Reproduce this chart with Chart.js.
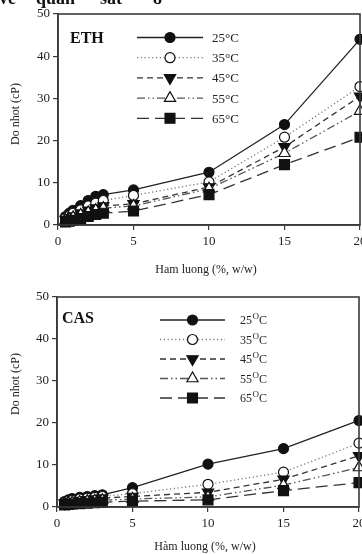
<!DOCTYPE html>
<html lang="vi">
  <head>
    <meta charset="UTF-8" />
    <title>Do nhot</title>
    <script src="https://cdn.jsdelivr.net/npm/chart.js"></script>
    <style>
      html, body { margin: 0; padding: 0; background: #fff; }
      body { width: 362px; height: 554px; position: relative; overflow: hidden; }
      canvas { position: absolute; left: 0; }
      #c1 { top: 0; }
      #c2 { top: 277px; }
    </style>
  </head>
  <body>
    <!-- canvases are a bit wider than the window so the last x label gets cut like the scan -->
    <canvas id="c1" width="376" height="277"></canvas>
    <canvas id="c2" width="376" height="277"></canvas>

    <script>
      // shared x values (% w/w)
      const conc = [0.5, 0.75, 1, 1.5, 2, 2.5, 3, 5, 10, 15, 20];
      const xTicks = [0, 5, 10, 15, 20];
      const yTicks = [0, 10, 20, 30, 40, 50];
      const temps = ["25", "35", "45", "55", "65"];

      // ETH viscosity (cP)
      const eth25 = [2.0, 2.8, 3.5, 4.6, 5.8, 6.8, 7.2, 8.3, 12.5, 23.8, 44.0];
      const eth35 = [1.7, 2.2, 2.8, 3.6, 4.5, 5.2, 5.8, 7.0, 10.2, 20.8, 32.8];
      const eth45 = [1.3, 1.7, 2.1, 2.8, 3.5, 4.0, 4.5, 5.0, 9.0, 18.5, 30.5];
      const eth55 = [1.1, 1.4, 1.8, 2.4, 3.0, 3.5, 4.0, 4.5, 8.6, 17.0, 27.0];
      const eth65 = [0.7, 0.9, 1.1, 1.5, 2.0, 2.5, 2.8, 3.3, 7.2, 14.3, 20.8];

      // CAS viscosity (cP)
      const cas25 = [1.3, 1.7, 2.0, 2.3, 2.5, 2.7, 2.9, 4.6, 10.2, 13.9, 20.6];
      const cas35 = [1.1, 1.4, 1.6, 1.9, 2.1, 2.3, 2.5, 3.2, 5.4, 8.3, 15.2];
      const cas45 = [0.9, 1.1, 1.3, 1.5, 1.7, 1.9, 2.1, 2.5, 3.5, 6.6, 12.2];
      const cas55 = [0.7, 0.9, 1.0, 1.2, 1.4, 1.5, 1.6, 1.9, 2.4, 5.2, 9.4];
      const cas65 = [0.5, 0.6, 0.7, 0.8, 0.9, 1.0, 1.1, 1.4, 1.7, 3.9, 5.8];

      const SERIF = "'Liberation Serif', 'DejaVu Serif', serif";
      const INK = "#222";
      const FRAME = "#3a3a3a";
      const CW = 376;

      // line + marker style per temperature
      const styles = [
        { dash: [], lineColor: "#222", marker: "circle", fill: "#111", r: 5 },
        { dash: [1.2, 2.6], lineColor: "#777", marker: "circle", fill: "#fff", r: 5 },
        { dash: [6, 4], lineColor: "#333", marker: "triangle", rot: 180, fill: "#111", r: 6.5 },
        { dash: [8, 3, 1.5, 3, 1.5, 3], lineColor: "#555", marker: "triangle", rot: 0, fill: "#fff", r: 6.5 },
        { dash: [12, 6], lineColor: "#333", marker: "rect", fill: "#111", r: 7 },
      ];

      function drawMarker(ctx, s, x, y) {
        ctx.save();
        ctx.setLineDash([]);
        ctx.fillStyle = s.fill;
        ctx.strokeStyle = "#111";
        ctx.lineWidth = 1.2;
        ctx.beginPath();
        if (s.marker === "circle") {
          ctx.arc(x, y, s.r, 0, Math.PI * 2);
        } else if (s.marker === "rect") {
          const h = s.r * Math.SQRT1_2;
          ctx.rect(x - h, y - h, 2 * h, 2 * h);
        } else {
          const d = s.rot === 180 ? -1 : 1;
          const a = s.r;
          ctx.moveTo(x, y - d * a);
          ctx.lineTo(x - a * 0.866, y + d * a * 0.5);
          ctx.lineTo(x + a * 0.866, y + d * a * 0.5);
          ctx.closePath();
        }
        ctx.fill();
        ctx.stroke();
        ctx.restore();
      }

      const panelPlugin = {
        id: "panel",
        afterDraw(chart, args, o) {
          const ctx = chart.ctx;
          const a = chart.chartArea;
          ctx.save();
          // frame
          ctx.strokeStyle = FRAME;
          ctx.lineWidth = 1.6;
          ctx.strokeRect(a.left, a.top, a.right - a.left, a.bottom - a.top);

          // panel label
          ctx.fillStyle = "#111";
          ctx.font = "bold 16px " + SERIF;
          ctx.textBaseline = "alphabetic";
          ctx.fillText(o.label, o.labelX, o.labelY);

          // legend
          o.rows.forEach((t, i) => {
            const s = styles[i];
            const y = o.legY + o.legStep * i;
            ctx.save();
            ctx.strokeStyle = s.lineColor;
            ctx.lineWidth = 1.3;
            ctx.setLineDash(s.dash);
            ctx.beginPath();
            ctx.moveTo(o.legX1, y);
            ctx.lineTo(o.legX2, y);
            ctx.stroke();
            ctx.restore();
            drawMarker(ctx, s, (o.legX1 + o.legX2) / 2, y);

            ctx.fillStyle = INK;
            ctx.textBaseline = "middle";
            ctx.font = o.legFont + "px " + SERIF;
            let x = o.textX;
            ctx.fillText(t, x, y + 1);
            x += ctx.measureText(t).width;
            if (o.degree) {
              ctx.fillText("°C", x, y + 1);
            } else {
              ctx.font = Math.round(o.legFont * 0.72) + "px " + SERIF;
              ctx.fillText("O", x + 0.5, y - 3);
              x += ctx.measureText("O").width + 0.5;
              ctx.font = o.legFont + "px " + SERIF;
              ctx.fillText("C", x, y + 1);
            }
          });

          // axis titles
          ctx.fillStyle = INK;
          ctx.font = "12px " + SERIF;
          ctx.textAlign = "center";
          ctx.textBaseline = "middle";
          ctx.fillText(o.xTitle, o.xTitleX, o.xTitleY);
          ctx.translate(o.yTitleX, o.yTitleY);
          ctx.rotate(-Math.PI / 2);
          ctx.fillText("Do nhot (cP)", 0, 0);
          ctx.restore();

          if (o.top) {
            ctx.save();
            ctx.fillStyle = "#111";
            ctx.font = "bold 18px " + SERIF;
            ctx.textBaseline = "alphabetic";
            ctx.fillText("về", -1, 4);
            ctx.fillText("quan", 36, 4);
            ctx.fillText("sát", 100, 4);
            ctx.fillText("8", 153, 4);
            ctx.restore();
          }
        },
      };

      function makeChart(id, series, box, panel) {
        const H = 277;
        const datasets = series.map((vals, i) => {
          const s = styles[i];
          return {
            label: temps[i],
            data: conc.map((x, k) => ({ x: x, y: vals[k] })),
            showLine: true,
            borderColor: s.lineColor,
            borderWidth: 1.3,
            borderDash: s.dash,
            pointStyle: s.marker,
            rotation: s.rot || 0,
            pointRadius: s.r,
            pointBackgroundColor: s.fill,
            pointBorderColor: "#111",
            pointBorderWidth: 1.2,
            clip: false,
          };
        });
        // draw warm series last so they sit on top
        datasets.reverse();

        return new Chart(document.getElementById(id), {
          type: "scatter",
          data: { datasets: datasets },
          plugins: [panelPlugin],
          options: {
            responsive: false,
            animation: false,
            events: [],
            layout: { padding: { top: box.top, right: CW - box.right, left: 0, bottom: 0 } },
            scales: {
              x: {
                type: "linear",
                min: 0,
                max: 20,
                afterBuildTicks: (s) => { s.ticks = xTicks.map((v) => ({ value: v })); },
                ticks: { color: INK, font: { family: SERIF, size: 13 }, padding: 4, maxRotation: 0 },
                grid: { drawOnChartArea: false, tickLength: 5, color: FRAME, lineWidth: 1.2 },
                border: { color: FRAME, width: 1.6 },
                afterFit: (s) => {
                  s.height = H - box.bottom;
                  s.paddingLeft = 0;
                  s.paddingRight = 0;
                },
              },
              y: {
                type: "linear",
                min: 0,
                max: 50,
                afterBuildTicks: (s) => { s.ticks = yTicks.map((v) => ({ value: v })); },
                ticks: { color: INK, font: { family: SERIF, size: 13 }, padding: 3 },
                grid: { drawOnChartArea: false, tickLength: 5, color: FRAME, lineWidth: 1.2 },
                border: { color: FRAME, width: 1.6 },
                afterFit: (s) => {
                  s.width = box.left;
                  s.paddingTop = 0;
                  s.paddingBottom = 0;
                },
              },
            },
            plugins: {
              legend: { display: false },
              tooltip: { enabled: false },
              panel: panel,
            },
          },
        });
      }

      makeChart(
        "c1",
        [eth25, eth35, eth45, eth55, eth65],
        { left: 58, right: 360, top: 14, bottom: 225 },
        {
          top: true,
          label: "ETH", labelX: 70, labelY: 43,
          rows: temps, degree: true, legFont: 13,
          legX1: 137, legX2: 203, textX: 212, legY: 37.5, legStep: 20.2,
          xTitle: "Ham luong (%, w/w)", xTitleX: 206, xTitleY: 270,
          yTitleX: 16, yTitleY: 114,
        }
      );

      makeChart(
        "c2",
        [cas25, cas35, cas45, cas55, cas65],
        { left: 57, right: 359, top: 20, bottom: 230 },
        {
          top: false,
          label: "CAS", labelX: 62, labelY: 46,
          rows: temps, degree: false, legFont: 12,
          legX1: 160, legX2: 225, textX: 240, legY: 43, legStep: 19.5,
          xTitle: "Hàm luong (%, w/w)", xTitleX: 205, xTitleY: 270,
          yTitleX: 16, yTitleY: 107,
        }
      );
    </script>
  </body>
</html>
